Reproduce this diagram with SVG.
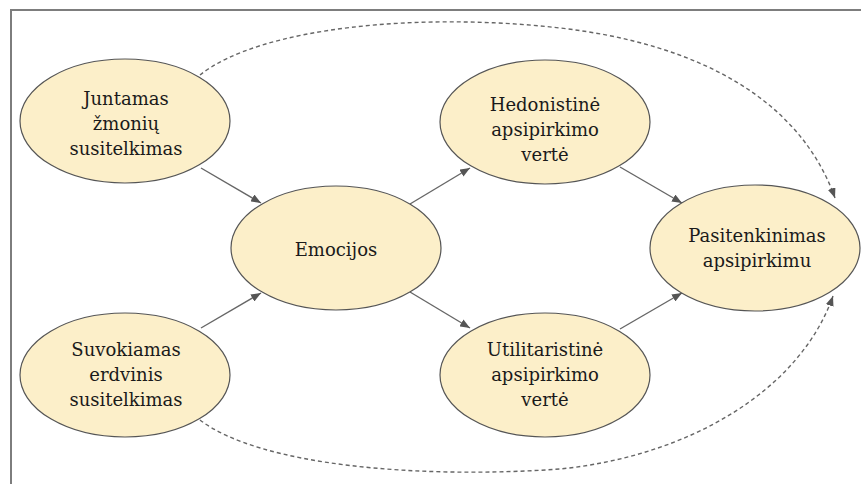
<svg xmlns="http://www.w3.org/2000/svg" width="861" height="484" viewBox="0 0 861 484">
<style>
.node ellipse{fill:#fcefc9;stroke:#555;stroke-width:1.2}
.node text{font-family:'DejaVu Serif',serif;font-size:18px;fill:#1a1a1a;text-anchor:middle}
.edge{fill:none;stroke:#666;stroke-width:1.4}
.dash{fill:none;stroke:#666;stroke-width:1.4;stroke-dasharray:4 3}
</style>
<defs>
<marker id="ah" viewBox="0 0 10 8" refX="10" refY="4" markerWidth="10" markerHeight="8" markerUnits="userSpaceOnUse" orient="auto">
<path d="M0,0 L10,4 L0,8 Z" fill="#555"/>
</marker>
</defs>
<rect width="861" height="484" fill="#fff"/>
<path d="M11,484 V10 H861" fill="none" stroke="#7d7d7d" stroke-width="2"/>
<g id="connectors">
<line class="edge" x1="201" y1="168" x2="261" y2="203" marker-end="url(#ah)"/>
<line class="edge" x1="201" y1="328" x2="261" y2="293" marker-end="url(#ah)"/>
<line class="edge" x1="410" y1="204" x2="470" y2="168" marker-end="url(#ah)"/>
<line class="edge" x1="410" y1="292" x2="470" y2="328" marker-end="url(#ah)"/>
<line class="edge" x1="620" y1="167" x2="682" y2="203" marker-end="url(#ah)"/>
<line class="edge" x1="620" y1="329" x2="682" y2="293" marker-end="url(#ah)"/>
<path class="dash" d="M200,75 C260,27 420,12 560,28 C700,44 800,100 835,198" marker-end="url(#ah)"/>
<path class="dash" d="M200,420 C260,466 420,479 560,469 C690,456 800,390 833,296" marker-end="url(#ah)"/>
</g>
<g id="n1" class="node">
<ellipse cx="125" cy="121" rx="105" ry="62"/>
<text x="126" y="105">Juntamas</text>
<text x="126" y="130">žmonių</text>
<text x="126" y="155">susitelkimas</text>
</g>
<g id="n2" class="node">
<ellipse cx="125" cy="375" rx="105" ry="62"/>
<text x="126" y="356">Suvokiamas</text>
<text x="126" y="381">erdvinis</text>
<text x="126" y="406">susitelkimas</text>
</g>
<g id="n3" class="node">
<ellipse cx="336" cy="248" rx="105" ry="62"/>
<text x="336" y="256">Emocijos</text>
</g>
<g id="n4" class="node">
<ellipse cx="545" cy="122" rx="105" ry="62"/>
<text x="545" y="111">Hedonistinė</text>
<text x="545" y="136">apsipirkimo</text>
<text x="545" y="161">vertė</text>
</g>
<g id="n5" class="node">
<ellipse cx="545" cy="375" rx="105" ry="62"/>
<text x="545" y="356">Utilitaristinė</text>
<text x="545" y="381">apsipirkimo</text>
<text x="545" y="406">vertė</text>
</g>
<g id="n6" class="node">
<ellipse cx="755" cy="248" rx="105" ry="63"/>
<text x="757" y="242">Pasitenkinimas</text>
<text x="757" y="267">apsipirkimu</text>
</g>
</svg>
